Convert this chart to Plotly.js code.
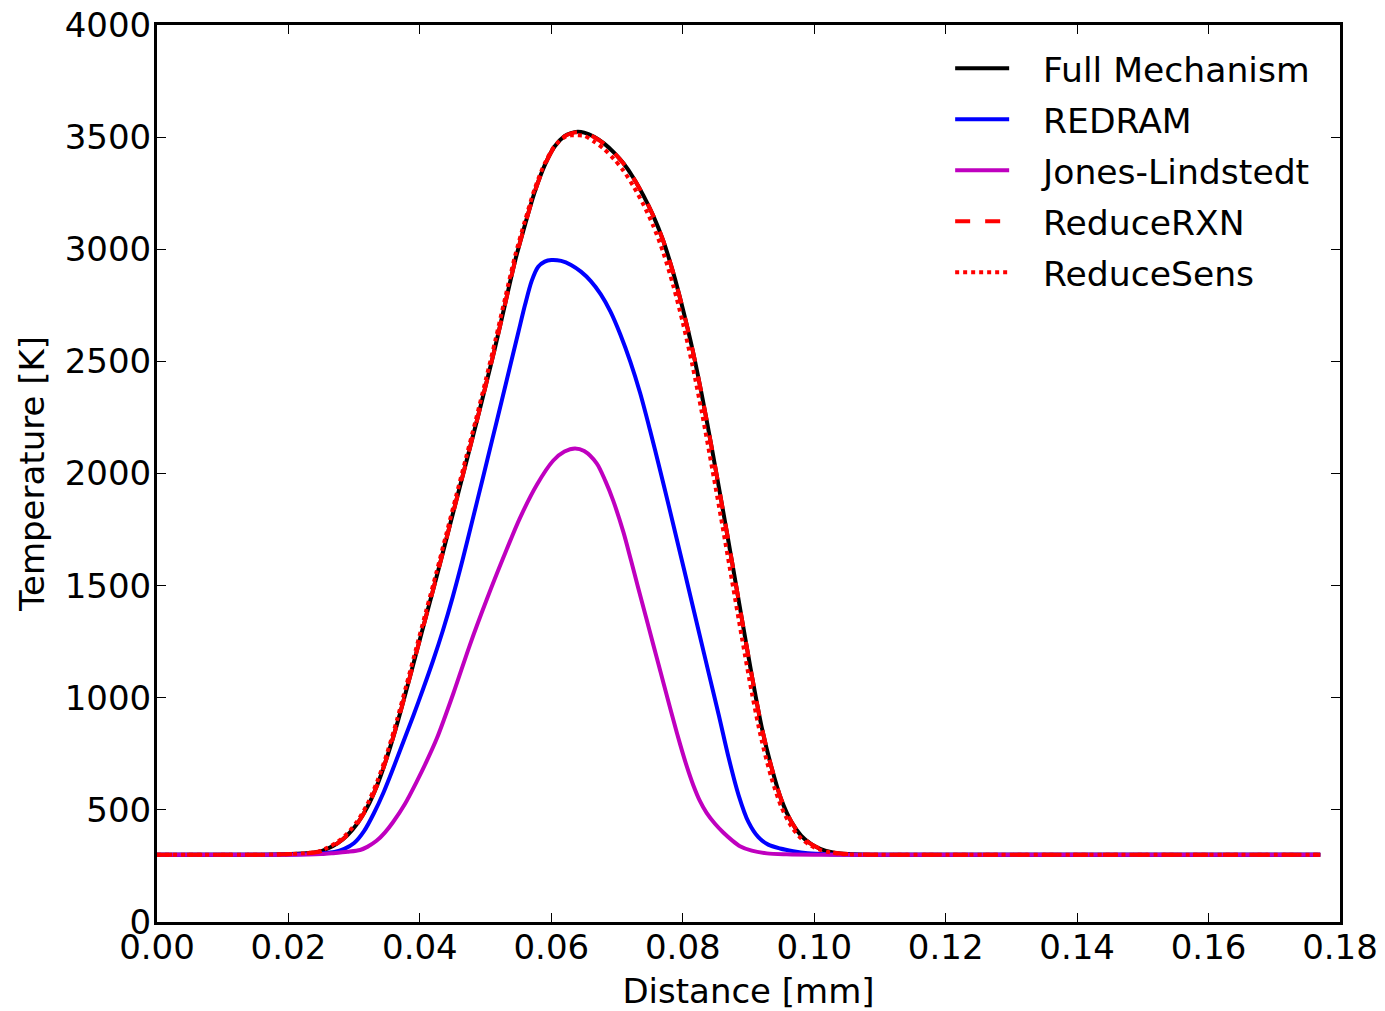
<!DOCTYPE html>
<html>
<head>
<meta charset="utf-8">
<script src="https://cdn.plot.ly/plotly-3.0.1.min.js"></script>
<style>html,body{margin:0;padding:0;background:#fff;}#chart{width:1385px;height:1011px;}</style>
</head>
<body>
<div id="chart"></div>
<script>
// Series names
const seriesNames = ["Full Mechanism", "REDRAM", "Jones-Lindstedt", "ReduceRXN", "ReduceSens"];

// Full Mechanism
const fullX = [0, 0.010, 0.018, 0.022, 0.0245, 0.026, 0.0275, 0.029, 0.0305, 0.032, 0.0335, 0.035, 0.0365, 0.038, 0.0395, 0.041, 0.0425, 0.044, 0.0455, 0.047, 0.0485, 0.050, 0.0515, 0.053, 0.0545, 0.056, 0.0575, 0.059, 0.0605, 0.062, 0.063, 0.064, 0.065, 0.0665, 0.068, 0.0695, 0.071, 0.0725, 0.074, 0.0755, 0.077, 0.0785, 0.080, 0.0815, 0.083, 0.0845, 0.086, 0.0875, 0.089, 0.0905, 0.092, 0.0935, 0.095, 0.0965, 0.098, 0.0995, 0.101, 0.1025, 0.104, 0.107, 0.110, 0.177];
const fullT = [300, 300, 301, 305, 312, 328, 352, 388, 440, 512, 610, 735, 880, 1040, 1205, 1370, 1535, 1705, 1875, 2045, 2215, 2390, 2570, 2760, 2950, 3110, 3258, 3375, 3458, 3504, 3518, 3524, 3520, 3502, 3472, 3432, 3382, 3318, 3240, 3150, 3040, 2900, 2735, 2550, 2335, 2100, 1855, 1605, 1350, 1100, 870, 690, 545, 448, 385, 348, 325, 312, 305, 301, 300, 300];

// REDRAM
const redramX = [0, 0.015, 0.022, 0.025, 0.027, 0.0285, 0.030, 0.0315, 0.033, 0.0345, 0.036, 0.0375, 0.039, 0.0405, 0.042, 0.0435, 0.045, 0.0465, 0.048, 0.0495, 0.051, 0.0525, 0.054, 0.055, 0.056, 0.057, 0.058, 0.059, 0.060, 0.0615, 0.063, 0.0645, 0.066, 0.0675, 0.069, 0.0705, 0.072, 0.0735, 0.075, 0.0765, 0.078, 0.0795, 0.081, 0.0825, 0.084, 0.0855, 0.087, 0.0885, 0.090, 0.0915, 0.093, 0.0948, 0.0968, 0.099, 0.102, 0.106, 0.177];
const redramT = [300, 300, 302, 306, 312, 326, 352, 405, 485, 580, 690, 805, 920, 1040, 1165, 1300, 1450, 1615, 1792, 1970, 2150, 2330, 2512, 2632, 2752, 2858, 2922, 2945, 2952, 2948, 2930, 2900, 2858, 2800, 2722, 2620, 2500, 2360, 2195, 2020, 1840, 1657, 1473, 1288, 1103, 920, 730, 565, 445, 378, 345, 328, 316, 307, 302, 300, 300];

// Jones-Lindstedt
const jonesX = [0, 0.020, 0.025, 0.0268, 0.029, 0.0309, 0.032, 0.0334, 0.0347, 0.0359, 0.0377, 0.0395, 0.0410, 0.0426, 0.0451, 0.0476, 0.0502, 0.0527, 0.0552, 0.0578, 0.0603, 0.0620, 0.0636, 0.0650, 0.0669, 0.0682, 0.0694, 0.0710, 0.0721, 0.0732, 0.0744, 0.0755, 0.0766, 0.0776, 0.0786, 0.0796, 0.0806, 0.0816, 0.0826, 0.0836, 0.0849, 0.0862, 0.0875, 0.0887, 0.0905, 0.0928, 0.0958, 0.100, 0.177];
const jonesT = [300, 300, 303, 307, 313, 321, 335, 362, 400, 445, 525, 625, 715, 820, 1020, 1235, 1440, 1625, 1800, 1950, 2058, 2098, 2112, 2100, 2045, 1968, 1880, 1735, 1615, 1492, 1360, 1238, 1117, 1007, 897, 792, 695, 610, 540, 488, 438, 398, 364, 338, 318, 306, 302, 300, 300];

// ReduceRXN
const rxnX = [0, 0.010, 0.018, 0.022, 0.0245, 0.026, 0.0275, 0.029, 0.0305, 0.032, 0.0335, 0.035, 0.0365, 0.038, 0.0395, 0.041, 0.0425, 0.044, 0.0455, 0.047, 0.0485, 0.050, 0.0515, 0.053, 0.0545, 0.056, 0.0575, 0.059, 0.0605, 0.062, 0.063, 0.064, 0.065, 0.0665, 0.068, 0.0695, 0.071, 0.0725, 0.074, 0.0755, 0.077, 0.0785, 0.080, 0.0815, 0.083, 0.0845, 0.086, 0.0875, 0.089, 0.0905, 0.092, 0.0935, 0.095, 0.0965, 0.098, 0.0995, 0.101, 0.1025, 0.104, 0.107, 0.110, 0.177];
const rxnT = [300, 300, 301, 305, 312, 328, 352, 388, 440, 512, 610, 735, 880, 1040, 1205, 1370, 1535, 1705, 1875, 2045, 2215, 2390, 2570, 2760, 2950, 3110, 3258, 3375, 3458, 3503, 3517, 3522, 3518, 3500, 3471, 3431, 3381, 3317, 3240, 3150, 3040, 2900, 2735, 2550, 2335, 2100, 1855, 1605, 1350, 1100, 870, 690, 545, 448, 385, 348, 325, 312, 305, 301, 300, 300];

// ReduceSens
const sensX = [0, 0.010, 0.018, 0.022, 0.0245, 0.026, 0.0275, 0.029, 0.0305, 0.032, 0.0335, 0.035, 0.0365, 0.038, 0.0395, 0.041, 0.0425, 0.044, 0.0455, 0.047, 0.0485, 0.050, 0.0515, 0.053, 0.0545, 0.056, 0.0575, 0.059, 0.0605, 0.062, 0.063, 0.064, 0.065, 0.0665, 0.068, 0.0695, 0.071, 0.0725, 0.074, 0.0755, 0.077, 0.0785, 0.080, 0.0815, 0.083, 0.0845, 0.086, 0.0875, 0.089, 0.0905, 0.092, 0.0935, 0.095, 0.0965, 0.098, 0.0995, 0.101, 0.1025, 0.104, 0.107, 0.110, 0.177];
const sensT = [300, 300, 301, 306, 314, 332, 358, 396, 450, 525, 626, 752, 900, 1062, 1227, 1392, 1557, 1728, 1898, 2068, 2238, 2414, 2596, 2786, 2972, 3128, 3272, 3383, 3460, 3500, 3508, 3508, 3506, 3480, 3447, 3403, 3349, 3280, 3200, 3105, 2988, 2843, 2673, 2478, 2257, 2018, 1772, 1520, 1267, 1023, 810, 642, 513, 427, 373, 340, 321, 310, 304, 300, 300, 300];

const xTitle = "Distance [mm]";
const yTitle = "Temperature [K]";

const FONT = "DejaVu Sans";
const PAD = "\u00A0\u00A0\u2009";
function tr(x, y, name, color, dash, grp) {
  return {x: x, y: y, name: PAD + name, type: "scatter", mode: "lines", legendgroup: grp,
    line: {color: color, width: 4, dash: dash, shape: "spline", smoothing: 0.8}};
}
const data = [
  tr(fullX, fullT, seriesNames[0], "#000000", "solid", "a"),
  tr(redramX, redramT, seriesNames[1], "#0000ff", "solid", "b"),
  tr(jonesX, jonesT, seriesNames[2], "#bf00bf", "solid", "c"),
  tr(rxnX, rxnT, seriesNames[3], "#ff0000", "15px,15px", "d"),
  tr(sensX, sensT, seriesNames[4], "#ff0000", "4px,4px", "e")
];
const axisCommon = {
  showline: true, linewidth: 3, linecolor: "#000", mirror: "ticks",
  ticks: "inside", ticklen: 9, tickwidth: 1.2, tickcolor: "#000",
  showgrid: false, zeroline: false,
  tickfont: {family: FONT, size: 34, color: "#000"}
};
const layout = {
  width: 1385, height: 1011,
  margin: {l: 157, r: 45, t: 25, b: 89},
  paper_bgcolor: "#fff", plot_bgcolor: "#fff",
  font: {family: FONT, size: 34, color: "#000"},
  showlegend: true,
  legend: {x: 0.979, xanchor: "right", y: 0.984, yanchor: "top", bgcolor: "rgba(0,0,0,0)",
    borderwidth: 0, font: {family: FONT, size: 34.6, color: "#000"}, traceorder: "grouped",
    tracegroupgap: 3, itemwidth: 54},
  xaxis: Object.assign({}, axisCommon, {range: [0, 0.18], dtick: 0.02, tick0: 0, tickformat: ".2f",
    ticklabelstandoff: -7,
    title: {text: xTitle, font: {family: FONT, size: 34, color: "#000"}, standoff: 18}}),
  yaxis: Object.assign({}, axisCommon, {range: [0, 4000], dtick: 500, tick0: 0,
    ticklabelstandoff: -4,
    title: {text: yTitle, font: {family: FONT, size: 34, color: "#000"}, standoff: 10}})
};
Plotly.newPlot("chart", data, layout, {displayModeBar: false, staticPlot: true});
</script>
</body>
</html>
